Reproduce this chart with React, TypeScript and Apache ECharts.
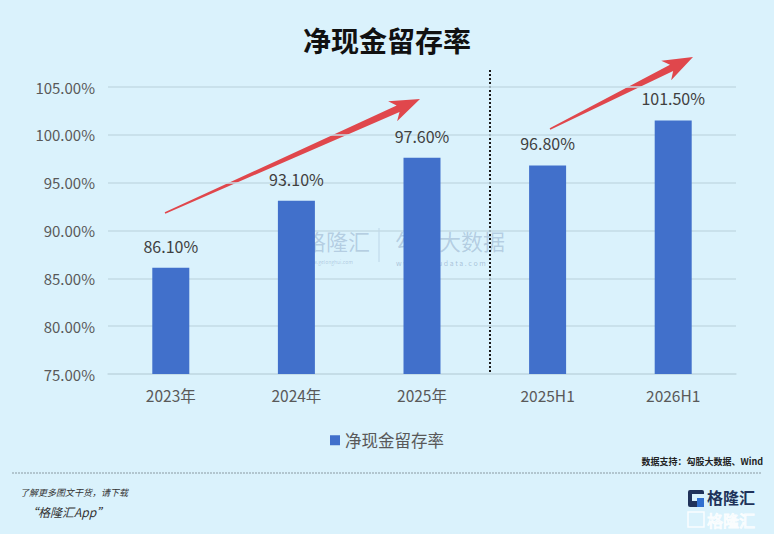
import React, { useEffect, useRef } from "react";
import * as echarts from "echarts";

const categories = ["2023年", "2024年", "2025年", "2025H1", "2026H1"];
const values = [86.1, 93.1, 97.6, 96.8, 101.5];
const seriesName = "净现金留存率";
const yMin = 75;
const yMax = 105;
const yStep = 5;

const FONT = "'Noto Sans CJK SC', 'Noto Sans', sans-serif";
const BG = "#daf2fc";

function arrow(x0: number, y0: number, x1: number, y1: number, w0: number, w1: number, hl: number, hw: number) {
  const dx = x1 - x0, dy = y1 - y0;
  const L = Math.sqrt(dx * dx + dy * dy);
  const ux = dx / L, uy = dy / L;
  const nx = -uy, ny = ux;
  const bx = x1 - ux * hl, by = y1 - uy * hl;
  const bbx = x1 - ux * hl * 0.8, bby = y1 - uy * hl * 0.8;
  return [
    [x0 + nx * w0 / 2, y0 + ny * w0 / 2],
    [bbx + nx * w1 / 2, bby + ny * w1 / 2],
    [bx + nx * hw / 2, by + ny * hw / 2],
    [x1, y1],
    [bx - nx * hw / 2, by - ny * hw / 2],
    [bbx - nx * w1 / 2, bby - ny * w1 / 2],
    [x0 - nx * w0 / 2, y0 - ny * w0 / 2],
  ];
}

export default function App() {
  const ref = useRef<HTMLDivElement>(null);
  useEffect(() => {
    const chart = echarts.init(ref.current!, null, { renderer: "svg" });
    chart.setOption({
      animation: false,
      backgroundColor: BG,
      title: {
        text: "净现金留存率",
        left: "center",
        top: 21,
        textStyle: { fontFamily: FONT, fontSize: 28, fontWeight: "bold", color: "#111" },
      },
      grid: { left: 108, right: 38, top: 87, bottom: 160 },
      legend: {
        data: [seriesName],
        top: 427,
        left: "center",
        icon: "rect",
        itemWidth: 10,
        itemHeight: 10,
        itemGap: 8,
        textStyle: { fontFamily: FONT, fontSize: 16.5, color: "#595959" },
      },
      xAxis: {
        type: "category",
        data: categories,
        axisLine: { lineStyle: { color: "#c3dbe6", width: 1.5 } },
        axisTick: { show: false },
        axisLabel: { fontFamily: FONT, fontSize: 15.5, color: "#595959", margin: 13 },
      },
      yAxis: {
        type: "value",
        min: yMin,
        max: yMax,
        interval: yStep,
        axisLine: { show: false },
        axisTick: { show: false },
        splitLine: { lineStyle: { color: "#c3dbe6", width: 1.5 } },
        axisLabel: {
          fontFamily: FONT,
          fontSize: 15,
          color: "#595959",
          margin: 13,
          formatter: (v: number) => v.toFixed(2) + "%",
        },
      },
      series: [
        {
          name: seriesName,
          type: "bar",
          data: values,
          barWidth: 37,
          itemStyle: { color: "#4170cb" },
          label: {
            show: true,
            position: "top",
            distance: 14,
            fontFamily: FONT,
            fontSize: 16,
            color: "#404040",
            formatter: (p: any) => p.value.toFixed(2) + "%",
          },
        },
      ],
      graphic: [
        // watermark
        {
          type: "group",
          silent: true,
          children: [
            { type: "rect", shape: { x: 279, y: 231, width: 20, height: 20, r: 3 }, style: { fill: "rgba(60,100,170,0.22)" } },
            { type: "text", x: 304, y: 240, style: { text: "格隆汇", font: `22px ${FONT}`, fill: "rgba(70,100,150,0.26)", verticalAlign: "middle" } },
            { type: "text", x: 305, y: 261, style: { text: "www.gelonghui.com", font: `5px ${FONT}`, fill: "rgba(70,100,150,0.3)", verticalAlign: "middle" } },
            { type: "line", shape: { x1: 379, y1: 228, x2: 379, y2: 262 }, style: { stroke: "rgba(70,100,150,0.2)", lineWidth: 1 } },
            { type: "text", x: 395, y: 240, style: { text: "勾股大数据", font: `22px ${FONT}`, fill: "rgba(70,100,150,0.26)", verticalAlign: "middle" } },
            { type: "text", x: 396, y: 263, style: { text: "w w w . g o g u d a t a . c o m", font: `7px ${FONT}`, fill: "rgba(70,100,150,0.35)", verticalAlign: "middle" } },
          ],
        },
        // divider
        {
          type: "line",
          shape: { x1: 490, y1: 70, x2: 490, y2: 372 },
          style: { stroke: "#1a1a1a", lineWidth: 2, lineDash: [2, 2] },
        },
        // arrows
        { type: "polygon", shape: { points: arrow(165, 213, 420, 99, 1.5, 7, 30, 22) }, style: { fill: "#e0474c" } },
        { type: "polygon", shape: { points: arrow(550, 129, 693, 57, 1.5, 7, 30, 22) }, style: { fill: "#e0474c" } },
        // source
        {
          type: "text",
          right: 11,
          top: 457,
          style: { text: "数据支持：勾股大数据、Wind", font: `bold 9px ${FONT}`, fill: "#222" },
        },
        {
          type: "line",
          shape: { x1: 12, y1: 473, x2: 762, y2: 473 },
          style: { stroke: "#8a9aa2", lineWidth: 1, lineDash: [2, 1] },
        },
        {
          type: "text",
          x: 20,
          y: 492,
          style: { text: "了解更多图文干货，请下载", font: `italic 9px ${FONT}`, fill: "#333", verticalAlign: "middle" },
        },
        {
          type: "text",
          x: 26,
          y: 511,
          style: { text: "“格隆汇App”", font: `italic 12px ${FONT}`, fill: "#333", verticalAlign: "middle" },
        },
        // logo
        { type: "rect", shape: { x: 688, y: 490, width: 16, height: 17, r: 2 }, style: { fill: "#20325a" } },
        { type: "rect", shape: { x: 692, y: 494, width: 12, height: 7 }, style: { fill: BG } },
        { type: "rect", shape: { x: 697, y: 498, width: 7, height: 9 }, style: { fill: "#2f6fd0" } },
        {
          type: "text",
          x: 707,
          y: 497,
          style: { text: "格隆汇", font: `bold 16px ${FONT}`, fill: "#20325a", verticalAlign: "middle" },
        },
        { type: "rect", shape: { x: 688, y: 512, width: 16, height: 15 }, style: { fill: "none", stroke: "rgba(255,255,255,0.85)", lineWidth: 1.5 } },
        {
          type: "text",
          x: 707,
          y: 520,
          style: { text: "格隆汇", font: `16px ${FONT}`, fill: "rgba(255,255,255,0.2)", stroke: "rgba(255,255,255,0.9)", lineWidth: 1, verticalAlign: "middle" },
        },
      ],
    });
    return () => chart.dispose();
  }, []);
  return <div ref={ref} style={{ position: "fixed", left: 0, top: 0, width: 774, height: 534 }} />;
}
